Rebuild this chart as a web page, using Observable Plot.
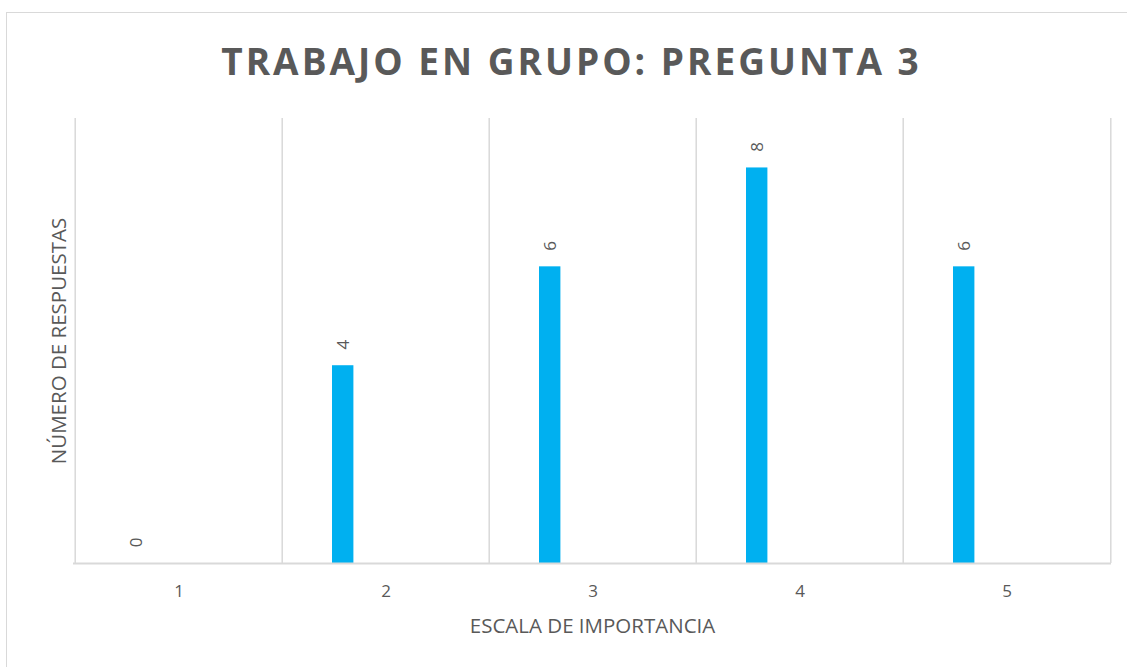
<!DOCTYPE html>
<html>
<head>
<meta charset="utf-8">
<script src="https://cdn.jsdelivr.net/npm/d3@7"></script>
<script src="https://cdn.jsdelivr.net/npm/@observablehq/plot@0.6"></script>
<style>
  html, body { margin: 0; padding: 0; background: #fff; }
  body { width: 1127px; height: 667px; overflow: hidden; position: relative; font-family: "Open Sans", sans-serif; }
  #frame { position: absolute; left: 6px; top: 12px; width: 1200px; height: 700px; border: 1px solid #d9d9d9; box-sizing: border-box; }
  #title { position: absolute; left: 0; top: 0; width: 1143px; height: 100px; text-align: center; font-weight: 700; font-size: 37px; letter-spacing: 3px; color: #595959; line-height: 100px; padding-top: 11px; box-sizing: border-box; }
  #chart { position: absolute; left: 0; top: 100px; }
</style>
</head>
<body>
<div id="frame"></div>
<div id="title">TRABAJO EN GRUPO: PREGUNTA 3</div>
<div id="chart"></div>
<script>
const categories = ["1", "2", "3", "4", "5"];
const values = [0, 4, 6, 8, 6];
const xTitle = "ESCALA DE IMPORTANCIA";
const yTitle = "NÚMERO DE RESPUESTAS";
const yMax = 9;

const data = categories.map((c, i) => ({cat: c, val: values[i]}));

const W = 1127, H = 567;
const mL = 73, mR = 16, mT = 18, mB = 104;
const band = (W - mL - mR) / categories.length;

const plot = Plot.plot({
  width: W,
  height: H,
  marginLeft: mL,
  marginRight: mR,
  marginTop: mT,
  marginBottom: mB,
  style: {fontFamily: "Open Sans, sans-serif", color: "#595959", background: "transparent"},
  x: {domain: categories, padding: 0, axis: null},
  y: {domain: [0, yMax], axis: null},
  marks: [
    Plot.ruleX(categories, {x: d => d, y1: 0, y2: yMax, dx: -band / 2, stroke: "#d9d9d9", strokeWidth: 1.5}),
    Plot.ruleX([categories[categories.length - 1]], {x: d => d, y1: 0, y2: yMax, dx: band / 2, stroke: "#d9d9d9", strokeWidth: 1.5}),
    Plot.barY(data, {x: "cat", y: "val", fill: "#00b0f0", insetLeft: 50, insetRight: band - 72}),
    Plot.ruleY([0], {stroke: "#d9d9d9", strokeWidth: 2}),
    Plot.text(data, {x: "cat", y: "val", text: d => String(d.val), dx: -(band / 2 - 61), dy: -21, rotate: -90, fontSize: 17, fill: "#595959"}),
    Plot.axisX({tickSize: 0, tickPadding: 21, fontSize: 17, label: null, color: "#595959"}),
    Plot.text([xTitle], {frameAnchor: "bottom", dy: 69, fontSize: 20.5, fill: "#595959", textAnchor: "middle"}),
    Plot.text([yTitle], {frameAnchor: "left", dx: -14, rotate: -90, fontSize: 20.5, fill: "#595959", textAnchor: "middle"})
  ]
});
document.getElementById("chart").appendChild(plot);
</script>
</body>
</html>
